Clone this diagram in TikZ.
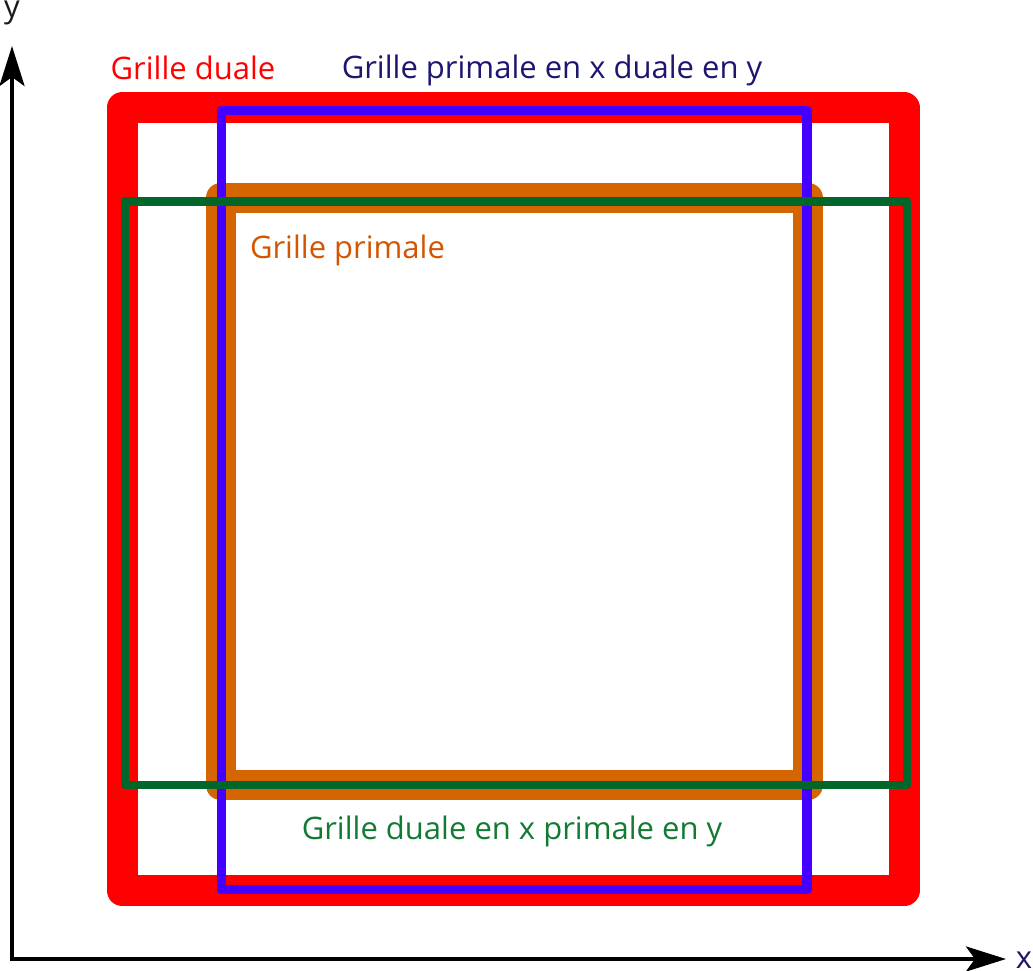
\documentclass[tikz,border=0pt]{standalone}
\usepackage{fontspec}
\setmainfont{Open Sans}
\usetikzlibrary{arrows.meta}
\definecolor{cred}{HTML}{FF0000}
\definecolor{cblue}{HTML}{4400FF}
\definecolor{corange}{HTML}{D46500}
\definecolor{cgreen}{HTML}{006629}
\definecolor{tnavy}{HTML}{1C1670}
\definecolor{torange}{HTML}{D45500}
\definecolor{tgreen}{HTML}{137A33}
\definecolor{tdark}{HTML}{1A1A1A}
\tikzset{
  grid/.style={line join=round},
  lbl/.style={inner sep=0pt, anchor=base, font=\fontsize{31}{36}\selectfont},
  axis/.style={line width=4pt, line join=miter, black,
    arrows={Stealth[length=40pt, width=25pt, inset=9pt]-Stealth[length=40pt, width=25pt, inset=9pt]}},
}
\begin{document}
\begin{tikzpicture}[x=1pt,y=-1pt]
\useasboundingbox (0,0) rectangle (1033,971);
% red: dual grid
\draw[grid, cred, line width=31pt] (122,108) rectangle (904,890.5);
% orange: primal grid
\draw[grid, corange, line width=30pt] (220.5,198) rectangle (808,785);
% blue: primal in x, dual in y
\draw[grid, cblue, line width=9.5pt] (221.5,110.5) rectangle (807,889.5);
% green: dual in x, primal in y
\draw[grid, cgreen, line width=8.5pt] (125,201.5) rectangle (907,785);
% axes
\coordinate (ytip) at (12,46);
\coordinate (origin) at (12,959);
\coordinate (xtip) at (1006,959);
\draw[axis] (ytip) -- (origin) -- (xtip);
\node[lbl, tdark] (ylab) at (12,18) {y};
\node[lbl, tnavy] (xlab) at (1024,968) {x};
% labels
\node[lbl, cred] (ldual) at (193,80) {Grille duale};
\node[lbl, tnavy] (lpxdy) at (552,79) {Grille primale en x duale en y};
\node[lbl, torange] (lprim) at (347.5,258) {Grille primale};
\node[lbl, tgreen] (ldxpy) at (512,839) {Grille duale en x primale en y};
\end{tikzpicture}
\end{document}
